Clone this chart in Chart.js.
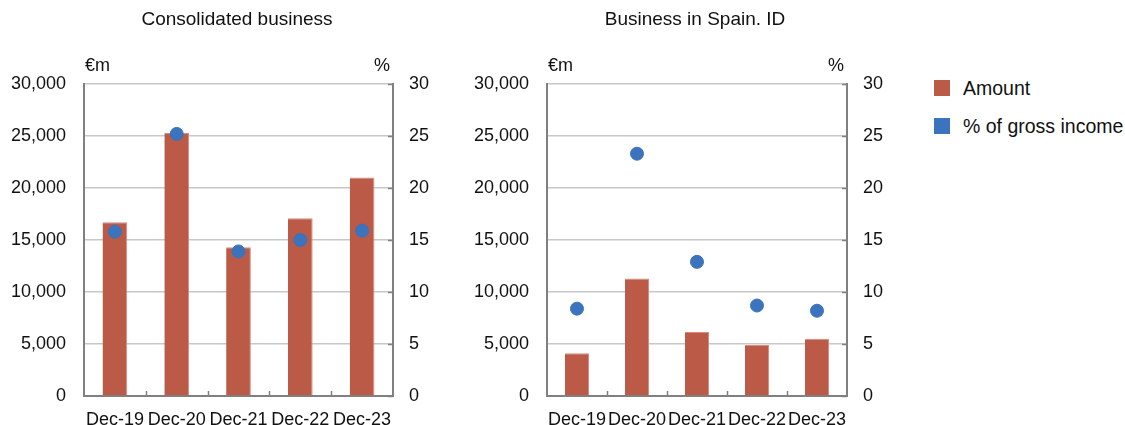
<!DOCTYPE html>
<html>
<head>
<meta charset="utf-8">
<script src="https://cdn.jsdelivr.net/npm/chart.js@4.4.0/dist/chart.umd.min.js"></script>
<style>
  html, body { margin: 0; padding: 0; background: #fff; }
  body { width: 1125px; height: 425px; position: relative; overflow: hidden; font-family: "Liberation Sans", Arial, sans-serif; }
  .wrap { position: absolute; top: 0; height: 425px; }
  #legend { position: absolute; left: 934px; top: 80px; font-size: 19.5px; color: #111; }
  #legend .item { position: relative; height: 38px; }
  #legend .sw { position: absolute; left: 0; top: 0; width: 16px; height: 16px; }
  #legend .lb { position: absolute; left: 29px; top: -3px; white-space: nowrap; }
</style>
</head>
<body>
<div class="wrap" style="left:0;width:450px"><canvas id="c1" width="450" height="425"></canvas></div>
<div class="wrap" style="left:460px;width:440px"><canvas id="c2" width="440" height="425"></canvas></div>
<div id="legend"></div>
<script>
const categories = ["Dec-19", "Dec-20", "Dec-21", "Dec-22", "Dec-23"];
const consolidatedAmount = [16700, 25300, 14300, 17100, 21000];
const consolidatedPct = [15.8, 25.2, 13.9, 15.0, 15.9];
const spainAmount = [4100, 11300, 6150, 4900, 5500];
const spainPct = [8.4, 23.3, 12.9, 8.7, 8.2];
const leftTicks = [0, 5000, 10000, 15000, 20000, 25000, 30000];
const rightTicks = [0, 5, 10, 15, 20, 25, 30];
const titles = ["Consolidated business", "Business in Spain. ID"];
const seriesNames = ["Amount", "% of gross income"];

const BAR = "#BA5A47";
const DOT = "#3B73BC";
const FONT = "Liberation Sans";
const FS = 18;

function makeChart(id, title, amounts, pcts, cfg) {
  const overlay = {
    id: 'overlay',
    afterDraw(chart) {
      const ctx = chart.ctx;
      const a = chart.chartArea;
      const x = chart.scales.x, y1 = chart.scales.y1;
      ctx.save();
      ctx.strokeStyle = "#808080";
      ctx.lineWidth = 1.5;
      for (let i = 1; i < categories.length; i++) {
        const px = (x.getPixelForValue(i - 1) + x.getPixelForValue(i)) / 2;
        ctx.beginPath();
        ctx.moveTo(Math.round(px) + 0.5, a.bottom);
        ctx.lineTo(Math.round(px) + 0.5, a.bottom - 5);
        ctx.stroke();
      }
      rightTicks.forEach(v => {
        const py = y1.getPixelForValue(v);
        ctx.beginPath();
        ctx.moveTo(a.right, Math.round(py) + 0.5);
        ctx.lineTo(a.right - 5, Math.round(py) + 0.5);
        ctx.stroke();
      });
      ctx.fillStyle = "#111";
      ctx.font = `19px "${FONT}"`;
      ctx.textAlign = "center";
      ctx.textBaseline = "middle";
      ctx.fillText(title, cfg.titleX, 20);
      ctx.font = `${FS}px "${FONT}"`;
      ctx.textAlign = "left";
      ctx.fillText("€m", a.left + 1, 66);
      ctx.textAlign = "right";
      ctx.fillText("%", a.right - 3, 66);
      ctx.restore();
    }
  };
  return new Chart(document.getElementById(id), {
    data: {
      labels: categories,
      datasets: [
        { type: 'scatter', label: seriesNames[1], data: pcts, yAxisID: 'y1', backgroundColor: DOT, borderColor: DOT, pointRadius: 6.5, pointHoverRadius: 6.5, order: 0 },
        { type: 'bar', label: seriesNames[0], data: amounts, yAxisID: 'y', backgroundColor: BAR, borderColor: "#D98C7E", borderWidth: {top: 1, left: 0, right: 1, bottom: 0}, barPercentage: 0.8, categoryPercentage: 0.5, order: 1 }
      ]
    },
    options: {
      responsive: false,
      animation: false,
      devicePixelRatio: 1,
      layout: { padding: { top: 84, left: 0, right: 0, bottom: 0 } },
      plugins: { legend: { display: false }, tooltip: { enabled: false }, title: { display: false } },
      scales: {
        x: {
          type: 'category',
          offset: true,
          grid: { display: false, drawTicks: false },
          border: { display: true, color: "#808080", width: 2 },
          ticks: { color: "#111", font: { family: FONT, size: FS }, padding: 13, maxRotation: 0, autoSkip: false },
          afterFit(s) { s.height = 29; }
        },
        y: {
          position: 'left',
          min: 0, max: 30000,
          afterBuildTicks(s) { s.ticks = leftTicks.map(v => ({ value: v })); },
          grid: { color: "#C8C8C8", lineWidth: 1.5, drawTicks: false },
          border: { display: true, color: "#808080", width: 2 },
          ticks: { color: "#111", font: { family: FONT, size: FS }, padding: 18, callback: v => v.toLocaleString('en-US') },
          afterFit(s) { s.width = cfg.leftW; }
        },
        y1: {
          position: 'right',
          min: 0, max: 30,
          afterBuildTicks(s) { s.ticks = rightTicks.map(v => ({ value: v })); },
          grid: { drawOnChartArea: false, drawTicks: false },
          border: { display: true, color: "#808080", width: 2 },
          ticks: { color: "#111", font: { family: FONT, size: FS }, padding: 16 },
          afterFit(s) { s.width = cfg.rightW; }
        }
      }
    },
    plugins: [overlay]
  });
}

makeChart('c1', titles[0], consolidatedAmount, consolidatedPct, { leftW: 84, rightW: 57, titleX: 237 });
makeChart('c2', titles[1], spainAmount, spainPct, { leftW: 87, rightW: 53, titleX: 235 });

const legend = document.getElementById('legend');
[[seriesNames[0], BAR], [seriesNames[1], DOT]].forEach(([name, color]) => {
  const it = document.createElement('div');
  it.className = 'item';
  it.innerHTML = `<div class="sw" style="background:${color}"></div><div class="lb">${name}</div>`;
  legend.appendChild(it);
});
</script>
</body>
</html>
